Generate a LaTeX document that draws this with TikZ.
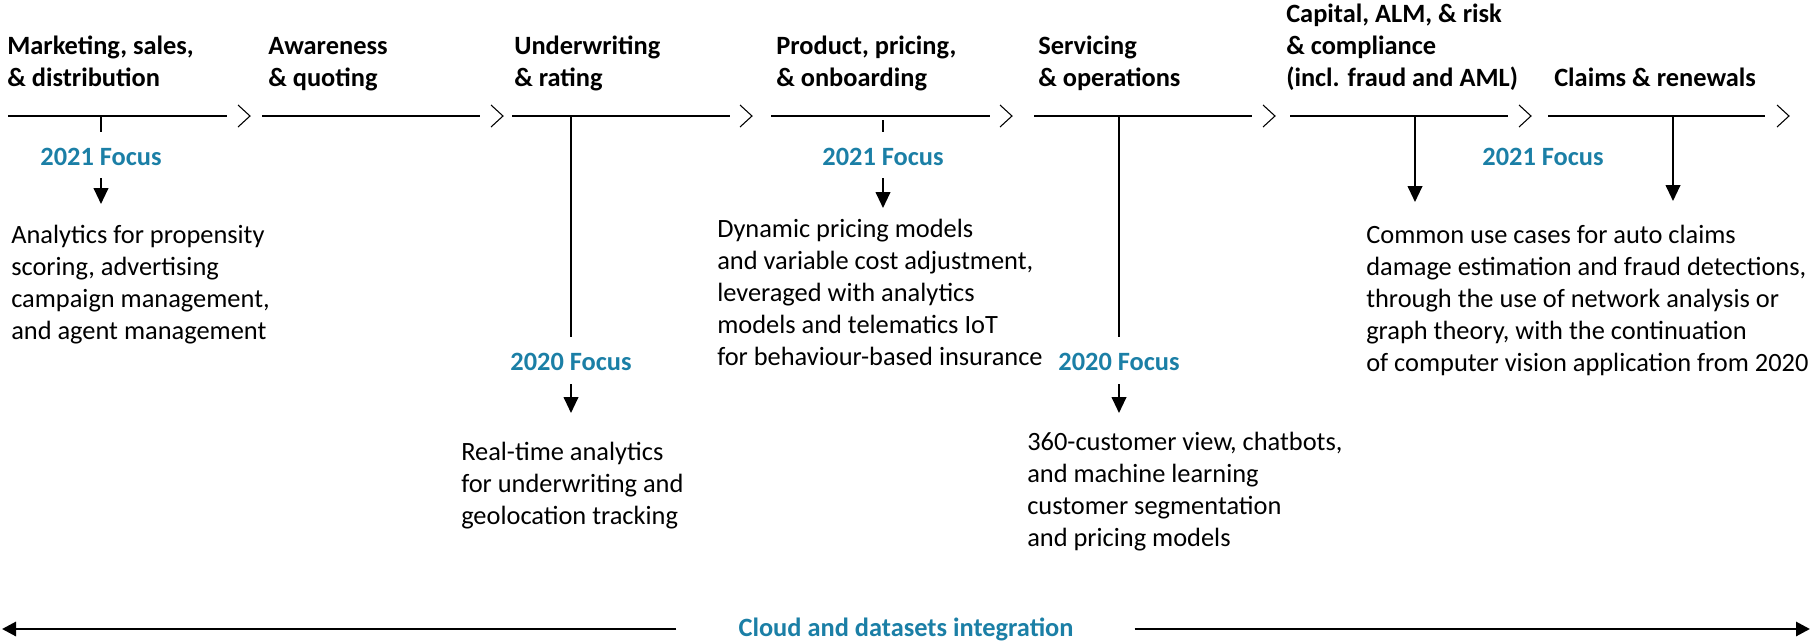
\documentclass[tikz,border=0pt]{standalone}
\usepackage{fontspec}
\setmainfont{Carlito}
\usetikzlibrary{arrows.meta}
\definecolor{focusblue}{HTML}{1B7FA6}
\tikzset{
  txt/.style={inner sep=0pt, align=left, font=\fontsize{19.8}{24}\selectfont, text=black},
  head/.style={txt, font=\fontsize{19.8}{24}\selectfont\bfseries},
  focus/.style={inner sep=0pt, font=\fontsize{19.8}{24}\selectfont\bfseries, text=focusblue},
  seg/.style={line width=1.7pt, black},
  chev/.style={line width=0.8pt, black, line join=miter},
  downarr/.style={line width=1.5pt, -{Triangle[length=12pt,width=11pt]}},
  bigarr/.style={line width=2.2pt, -{Triangle[length=10.5pt,width=10.5pt]}}
}
\begin{document}
\begin{tikzpicture}[x=0.75pt,y=-0.75pt]
\useasboundingbox (0,0) rectangle (1811,640);
% headings (anchor = baseline of last line)
\node[head, anchor=base west] (h1) at (7,86) {Marketing, sales,\\\& distribution};
\node[head, anchor=base west] (h2) at (268,86) {Awareness\\\& quoting};
\node[head, anchor=base west] (h3) at (514,86) {Underwriting\\\& rating};
\node[head, anchor=base west] (h4) at (776,86) {Product, pricing,\\\& onboarding};
\node[head, anchor=base west] (h5) at (1038,86) {Servicing\\\& operations};
\node[head, anchor=base west] (h6) at (1286,86) {Capital, ALM, \& risk\\\& compliance\\(incl. fraud and AML)};
\node[head, anchor=base west] (h7) at (1554,86) {Claims \& renewals};
% timeline segments
\foreach \a/\b/\n in {8/227/1,262/480/2,512/730/3,771/990/4,1034/1252/5,1290/1508/6,1548/1765/7}{
  \coordinate (s\n a) at (\a,116);
  \coordinate (s\n b) at (\b,116);
  \draw[seg] (s\n a) -- (s\n b);
}
% chevrons
\foreach \c in {238,491,740,1000,1263,1519,1777}{
  \draw[chev] (\c,105) -- (\c+12,116) -- (\c,127);
}
% focus labels
\node[focus, anchor=base] (f1) at (101,165) {2021 Focus};
\node[focus, anchor=base] (f2) at (571,370) {2020 Focus};
\node[focus, anchor=base] (f3) at (883,165) {2021 Focus};
\node[focus, anchor=base] (f4) at (1119,370) {2020 Focus};
\node[focus, anchor=base] (f5) at (1543,165) {2021 Focus};
% body texts (anchor = baseline of last line)
\node[txt, anchor=base west] (t1) at (11,339) {Analytics for propensity\\scoring, advertising\\campaign management,\\and agent management};
\node[txt, anchor=base west] (t2) at (461,524) {Real-time analytics\\for underwriting and\\geolocation tracking};
\node[txt, anchor=base west] (t3) at (717,365) {Dynamic pricing models\\and variable cost adjustment,\\leveraged with analytics\\models and telematics IoT\\for behaviour-based insurance};
\node[txt, anchor=base west] (t4) at (1027,546) {360-customer view, chatbots,\\and machine learning\\customer segmentation\\and pricing models};
\node[txt, anchor=base west] (t5) at (1366,371) {Common use cases for auto claims\\damage estimation and fraud detections,\\through the use of network analysis or\\graph theory, with the continuation\\of computer vision application from 2020};
% connectors
\coordinate (c1a) at (101,116); \coordinate (c1b) at (101,132);
\draw[seg] (c1a) -- (c1b);
\coordinate (a1a) at (101,178); \coordinate (a1b) at (101,204);
\draw[downarr] (a1a) -- (a1b);
\coordinate (c3a) at (571,116); \coordinate (c3b) at (571,337);
\draw[seg] (c3a) -- (c3b);
\coordinate (a3a) at (571,384); \coordinate (a3b) at (571,413);
\draw[downarr] (a3a) -- (a3b);
\coordinate (c4a) at (883,120); \coordinate (c4b) at (883,132);
\draw[seg] (c4a) -- (c4b);
\coordinate (a4a) at (883,178); \coordinate (a4b) at (883,208);
\draw[downarr] (a4a) -- (a4b);
\coordinate (c5a) at (1119,116); \coordinate (c5b) at (1119,337);
\draw[seg] (c5a) -- (c5b);
\coordinate (a5a) at (1119,384); \coordinate (a5b) at (1119,413);
\draw[downarr] (a5a) -- (a5b);
\coordinate (a6a) at (1415,116); \coordinate (a6b) at (1415,202);
\draw[downarr] (a6a) -- (a6b);
\coordinate (a7a) at (1673,116); \coordinate (a7b) at (1673,201);
\draw[downarr] (a7a) -- (a7b);
% bottom
\node[focus, anchor=base] (cloud) at (906,636) {Cloud and datasets integration};
\coordinate (bl) at (2,629); \coordinate (br) at (1810,629);
\draw[bigarr] (cloud.west |- bl) ++(-62,0) coordinate (bls) -- (bl);
\draw[bigarr] (cloud.east |- br) ++(61,0) coordinate (brs) -- (br);
\end{tikzpicture}
\end{document}
